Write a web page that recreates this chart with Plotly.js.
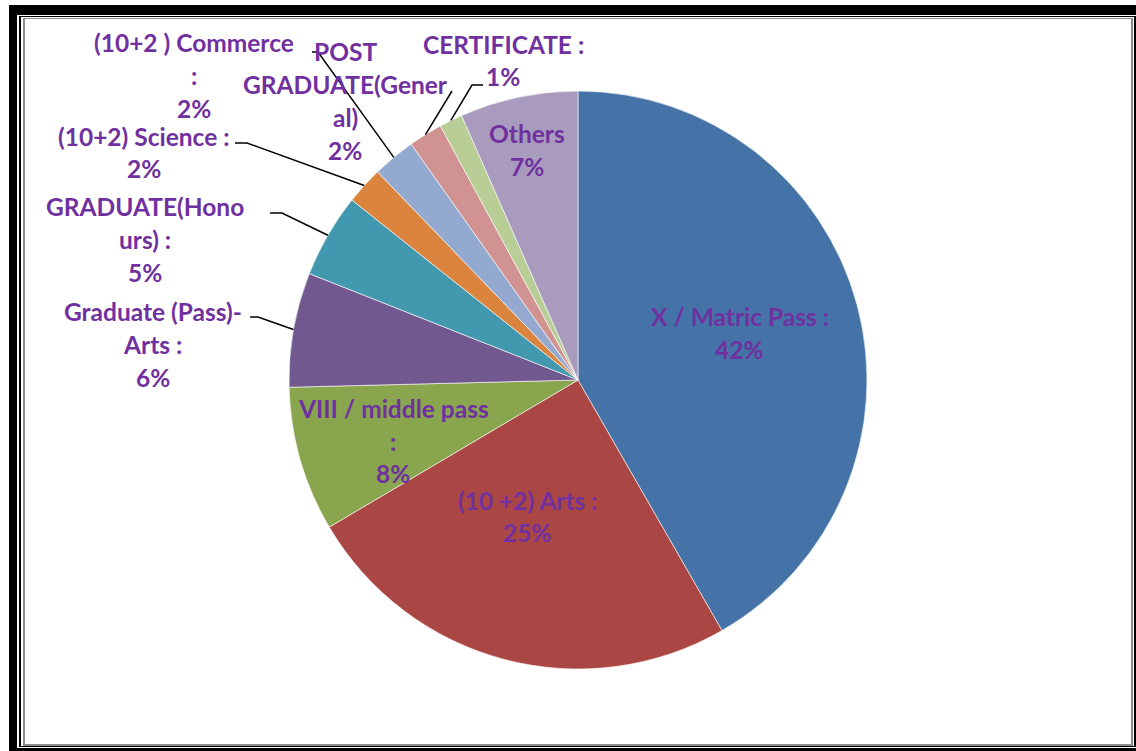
<!DOCTYPE html>
<html>
<head>
<meta charset="utf-8">
<script src="https://cdn.plot.ly/plotly-3.0.1.min.js"></script>
<style>
  html, body { margin: 0; padding: 0; background: #ffffff; }
  #wrap { position: relative; width: 1136px; height: 751px; overflow: hidden; background: #fff; }
  #chart { position: absolute; left: 0; top: 0; width: 1136px; height: 751px; }
  .fr { position: absolute; pointer-events: none; }
</style>
</head>
<body>
<div id="wrap">
  <div id="chart"></div>
  <!-- outer thick frame -->
  <div class="fr" style="left:9px;top:5px;width:8px;height:746px;background:#000"></div>
  <div class="fr" style="left:9px;top:5px;width:1127px;height:10px;background:#000"></div>
  <div class="fr" style="left:9px;top:748px;width:1127px;height:3px;background:#000"></div>
  <!-- inner thin black -->
  <div class="fr" style="left:19px;top:16px;width:2px;height:731px;background:#000"></div>
  <div class="fr" style="left:19px;top:16px;width:1117px;height:1px;background:#000"></div>
  <div class="fr" style="left:19px;top:746px;width:1117px;height:1px;background:#000"></div>
  <div class="fr" style="left:1134px;top:16px;width:2px;height:731px;background:#000"></div>
  <!-- inner gray -->
  <div class="fr" style="left:23px;top:18px;width:2px;height:727px;background:#8c8c8c"></div>
  <div class="fr" style="left:23px;top:18px;width:1110px;height:1px;background:#8c8c8c"></div>
  <div class="fr" style="left:23px;top:744px;width:1110px;height:2px;background:#8c8c8c"></div>
  <div class="fr" style="left:1131px;top:18px;width:2px;height:727px;background:#8c8c8c"></div>
</div>
<script>
// ---------- data ----------
const categories = [
  "X / Matric Pass :",
  "(10 +2) Arts :",
  "VIII / middle pass<br>:",
  "Graduate (Pass)-<br>Arts :",
  "GRADUATE(Hono<br>urs) :",
  "(10+2) Science :",
  "(10+2 ) Commerce<br>:",
  "POST<br>GRADUATE(Gener<br>al)",
  "CERTIFICATE :",
  "Others"
];
const shares = [41.7, 24.8, 8.1, 6.4, 4.7, 2.1, 2.4, 1.9, 1.3, 6.6];
const colors = ["#4572A7", "#AA4643", "#89A54E", "#71588F", "#4198AF",
                "#DB843D", "#93A9CF", "#D19392", "#B9CD96", "#A99BBD"];

// ---------- layout (pixel positions of label centres / leader anchors) ----------
const W = 1136, H = 751;
const labelPos = [
  [739.5, 333.3], [527.5, 516.5], [393, 441], [153, 344.5], [145, 239.5],
  [144, 152.5], [193.5, 75.7], [345, 101], [503, 60.5], [526.5, 150]
];
const leaderStart = {
  3: [[250, 317], [258, 317]],
  4: [[270, 213], [282, 213]],
  5: [[235, 143], [247, 143]],
  6: [[312, 52], [318, 52]],
  7: [[452, 91]],
  8: [[483, 85], [472, 85]]
};
const lineGap = 32.7;
const domX = [289 / W, 867 / W];
const domY = [1 - 669 / H, 1 - 91 / H];

const px = x => x / W;
const py = y => 1 - y / H;

const total = shares.reduce((a, b) => a + b, 0);
const cx = (domX[0] + domX[1]) / 2 * W;
const cy = (1 - (domY[0] + domY[1]) / 2) * H;
const R = Math.min((domX[1] - domX[0]) * W, (domY[1] - domY[0]) * H) / 2;

const font = { family: "Lato, 'Open Sans', sans-serif", size: 24.5, color: "#7030A0", weight: 700 };

const annotations = [];
const shapes = [];
let cum = 0;
shares.forEach((v, i) => {
  const pct = Math.round(v / total * 100) + "%";
  const lines = categories[i].split("<br>").concat([pct]);
  const [lx, ly] = labelPos[i];
  lines.forEach((t, k) => {
    const yy = ly + (k - (lines.length - 1) / 2) * lineGap;
    annotations.push({
      xref: "paper", yref: "paper", x: px(lx), y: py(yy),
      xanchor: "center", yanchor: "middle", showarrow: false,
      text: t, font: font
    });
  });
  const mid = (cum + v / 2) / total * 2 * Math.PI;
  cum += v;
  if (leaderStart[i]) {
    const ex = cx + R * Math.sin(mid), ey = cy - R * Math.cos(mid);
    const pts = leaderStart[i].concat([[ex, ey]]);
    const d = pts.map((p, k) => (k ? "L" : "M") + px(p[0]).toFixed(5) + "," + py(p[1]).toFixed(5)).join(" ");
    shapes.push({ type: "path", xref: "paper", yref: "paper", path: d,
                  line: { color: "#000", width: 1.5 } });
  }
});

const trace = {
  type: "pie",
  labels: categories,
  values: shares,
  sort: false,
  direction: "clockwise",
  rotation: 0,
  textinfo: "none",
  marker: { colors: colors, line: { color: "rgba(255,255,255,0.6)", width: 1 } },
  domain: { x: domX, y: domY },
  showlegend: false,
  hoverinfo: "label+percent"
};

Plotly.newPlot("chart", [trace], {
  width: W, height: H,
  margin: { l: 0, r: 0, t: 0, b: 0 },
  paper_bgcolor: "#ffffff",
  showlegend: false,
  annotations: annotations,
  shapes: shapes
}, { displayModeBar: false, staticPlot: true });
</script>
</body>
</html>
